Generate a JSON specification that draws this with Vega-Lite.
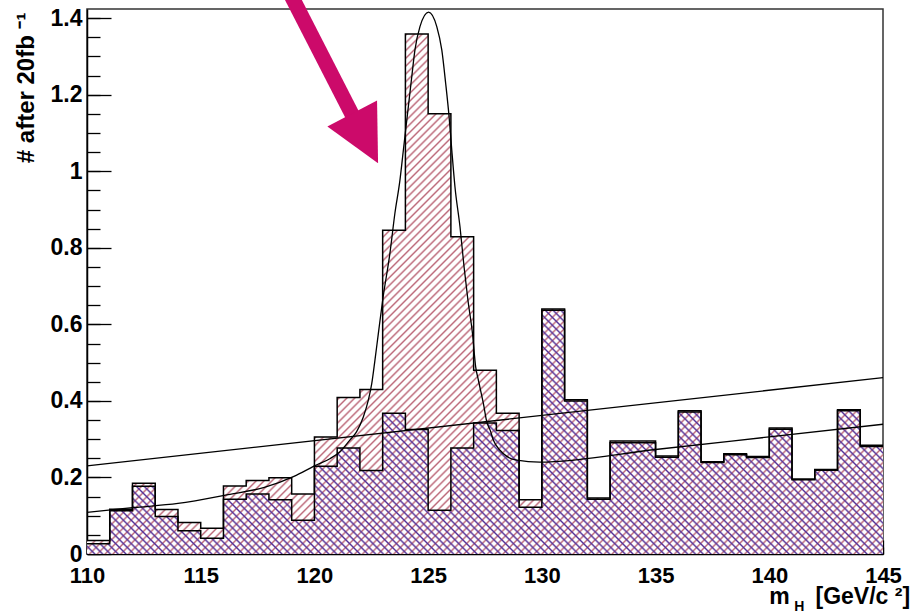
{
  "$schema": "https://vega.github.io/schema/vega-lite/v6.json",
  "width": 796,
  "height": 545,
  "autosize": {"type": "none"},
  "padding": {"left": 87, "top": 9, "right": 29, "bottom": 59},
  "background": "white",
  "config": {
    "view": {"stroke": "#333", "strokeWidth": 1.5},
    "font": "Liberation Sans",
    "axis": {"labelOverlap": false, "labelFlush": false, "labelBound": false, "grid": false}
  },
  "resolve": {"axis": {"x": "independent", "y": "independent"}},
  "datasets": {
    "hist": [
      {"m": 110, "bkg": 0.027, "tot": 0.035},
      {"m": 111, "bkg": 0.113, "tot": 0.117},
      {"m": 112, "bkg": 0.177, "tot": 0.185},
      {"m": 113, "bkg": 0.098, "tot": 0.116},
      {"m": 114, "bkg": 0.061, "tot": 0.082},
      {"m": 115, "bkg": 0.041, "tot": 0.067},
      {"m": 116, "bkg": 0.143, "tot": 0.178},
      {"m": 117, "bkg": 0.157, "tot": 0.192},
      {"m": 118, "bkg": 0.142, "tot": 0.199},
      {"m": 119, "bkg": 0.088, "tot": 0.157},
      {"m": 120, "bkg": 0.229, "tot": 0.306},
      {"m": 121, "bkg": 0.277, "tot": 0.409},
      {"m": 122, "bkg": 0.218, "tot": 0.430},
      {"m": 123, "bkg": 0.368, "tot": 0.846},
      {"m": 124, "bkg": 0.325, "tot": 1.359},
      {"m": 125, "bkg": 0.114, "tot": 1.150},
      {"m": 126, "bkg": 0.277, "tot": 0.829},
      {"m": 127, "bkg": 0.342, "tot": 0.480},
      {"m": 128, "bkg": 0.323, "tot": 0.368},
      {"m": 129, "bkg": 0.122, "tot": 0.142},
      {"m": 130, "bkg": 0.637, "tot": 0.640},
      {"m": 131, "bkg": 0.400, "tot": 0.403},
      {"m": 132, "bkg": 0.143, "tot": 0.146},
      {"m": 133, "bkg": 0.291, "tot": 0.295},
      {"m": 134, "bkg": 0.291, "tot": 0.295},
      {"m": 135, "bkg": 0.253, "tot": 0.256},
      {"m": 136, "bkg": 0.371, "tot": 0.374},
      {"m": 137, "bkg": 0.239, "tot": 0.241},
      {"m": 138, "bkg": 0.259, "tot": 0.262},
      {"m": 139, "bkg": 0.252, "tot": 0.255},
      {"m": 140, "bkg": 0.326, "tot": 0.329},
      {"m": 141, "bkg": 0.194, "tot": 0.196},
      {"m": 142, "bkg": 0.219, "tot": 0.221},
      {"m": 143, "bkg": 0.374, "tot": 0.377},
      {"m": 144, "bkg": 0.281, "tot": 0.284},
      {"m": 145, "bkg": 0.281, "tot": 0.284}
    ],
    "fit": [
      {"m": 110, "f": 0.109}, {"m": 112, "f": 0.121}, {"m": 114, "f": 0.132}, {"m": 116.2, "f": 0.155},
      {"m": 117.8, "f": 0.174}, {"m": 119.1, "f": 0.203}, {"m": 120.03, "f": 0.231}, {"m": 120.68, "f": 0.249},
      {"m": 121.1, "f": 0.266}, {"m": 121.55, "f": 0.297}, {"m": 121.85, "f": 0.319},
      {"m": 122.15, "f": 0.358}, {"m": 122.37, "f": 0.402}, {"m": 122.52, "f": 0.445}, {"m": 122.66, "f": 0.506},
      {"m": 122.81, "f": 0.576}, {"m": 123.0, "f": 0.663}, {"m": 123.32, "f": 0.786}, {"m": 123.54, "f": 0.891},
      {"m": 123.76, "f": 0.977}, {"m": 123.91, "f": 1.055}, {"m": 124.08, "f": 1.143}, {"m": 124.28, "f": 1.247},
      {"m": 124.42, "f": 1.317}, {"m": 124.64, "f": 1.378}, {"m": 125.02, "f": 1.416}, {"m": 125.38, "f": 1.378},
      {"m": 125.6, "f": 1.317}, {"m": 125.77, "f": 1.230}, {"m": 125.92, "f": 1.143}, {"m": 126.04, "f": 1.055},
      {"m": 126.18, "f": 0.959}, {"m": 126.4, "f": 0.855}, {"m": 126.58, "f": 0.750}, {"m": 126.75, "f": 0.663},
      {"m": 126.95, "f": 0.576}, {"m": 127.09, "f": 0.489}, {"m": 127.21, "f": 0.454}, {"m": 127.43, "f": 0.393},
      {"m": 127.58, "f": 0.345}, {"m": 127.73, "f": 0.323}, {"m": 127.87, "f": 0.297}, {"m": 128.16, "f": 0.271},
      {"m": 128.46, "f": 0.255}, {"m": 128.9, "f": 0.245}, {"m": 129.9, "f": 0.240}, {"m": 135, "f": 0.273},
      {"m": 140, "f": 0.306}, {"m": 145, "f": 0.339}
    ],
    "bkgline": [
      {"m": 110, "f": 0.230},
      {"m": 145, "f": 0.461}
    ]
  },
  "layer": [
    {
      "data": {"name": "hist"},
      "mark": {
        "type": "area",
        "interpolate": "step-after",
        "fill": {
          "gradient": "linear", "x1": 0, "y1": 0, "x2": 1.3735, "y2": 0.8974,
          "stops": [
{"offset":0,"color":"#b67"},{"offset":0.0013,"color":"#fff"},{"offset":0.0037,"color":"#fff"},{"offset":0.005,"color":"#b67"},{"offset":0.0063,"color":"#fff"},{"offset":0.0087,"color":"#fff"},
{"offset":0.01,"color":"#b67"},{"offset":0.0113,"color":"#fff"},{"offset":0.0137,"color":"#fff"},{"offset":0.015,"color":"#b67"},{"offset":0.0163,"color":"#fff"},{"offset":0.0187,"color":"#fff"},
{"offset":0.02,"color":"#b67"},{"offset":0.0213,"color":"#fff"},{"offset":0.0237,"color":"#fff"},{"offset":0.025,"color":"#b67"},{"offset":0.0263,"color":"#fff"},{"offset":0.0287,"color":"#fff"},
{"offset":0.03,"color":"#b67"},{"offset":0.0313,"color":"#fff"},{"offset":0.0337,"color":"#fff"},{"offset":0.035,"color":"#b67"},{"offset":0.0363,"color":"#fff"},{"offset":0.0387,"color":"#fff"},
{"offset":0.04,"color":"#b67"},{"offset":0.0413,"color":"#fff"},{"offset":0.0437,"color":"#fff"},{"offset":0.045,"color":"#b67"},{"offset":0.0463,"color":"#fff"},{"offset":0.0487,"color":"#fff"},
{"offset":0.05,"color":"#b67"},{"offset":0.0513,"color":"#fff"},{"offset":0.0537,"color":"#fff"},{"offset":0.055,"color":"#b67"},{"offset":0.0563,"color":"#fff"},{"offset":0.0587,"color":"#fff"},
{"offset":0.06,"color":"#b67"},{"offset":0.0613,"color":"#fff"},{"offset":0.0637,"color":"#fff"},{"offset":0.065,"color":"#b67"},{"offset":0.0663,"color":"#fff"},{"offset":0.0687,"color":"#fff"},
{"offset":0.07,"color":"#b67"},{"offset":0.0713,"color":"#fff"},{"offset":0.0737,"color":"#fff"},{"offset":0.075,"color":"#b67"},{"offset":0.0763,"color":"#fff"},{"offset":0.0787,"color":"#fff"},
{"offset":0.08,"color":"#b67"},{"offset":0.0813,"color":"#fff"},{"offset":0.0837,"color":"#fff"},{"offset":0.085,"color":"#b67"},{"offset":0.0863,"color":"#fff"},{"offset":0.0887,"color":"#fff"},
{"offset":0.09,"color":"#b67"},{"offset":0.0913,"color":"#fff"},{"offset":0.0937,"color":"#fff"},{"offset":0.095,"color":"#b67"},{"offset":0.0963,"color":"#fff"},{"offset":0.0987,"color":"#fff"},
{"offset":0.1,"color":"#b67"},{"offset":0.1013,"color":"#fff"},{"offset":0.1037,"color":"#fff"},{"offset":0.105,"color":"#b67"},{"offset":0.1063,"color":"#fff"},{"offset":0.1087,"color":"#fff"},
{"offset":0.11,"color":"#b67"},{"offset":0.1113,"color":"#fff"},{"offset":0.1137,"color":"#fff"},{"offset":0.115,"color":"#b67"},{"offset":0.1163,"color":"#fff"},{"offset":0.1187,"color":"#fff"},
{"offset":0.12,"color":"#b67"},{"offset":0.1213,"color":"#fff"},{"offset":0.1237,"color":"#fff"},{"offset":0.125,"color":"#b67"},{"offset":0.1263,"color":"#fff"},{"offset":0.1287,"color":"#fff"},
{"offset":0.13,"color":"#b67"},{"offset":0.1313,"color":"#fff"},{"offset":0.1337,"color":"#fff"},{"offset":0.135,"color":"#b67"},{"offset":0.1363,"color":"#fff"},{"offset":0.1387,"color":"#fff"},
{"offset":0.14,"color":"#b67"},{"offset":0.1413,"color":"#fff"},{"offset":0.1437,"color":"#fff"},{"offset":0.145,"color":"#b67"},{"offset":0.1463,"color":"#fff"},{"offset":0.1487,"color":"#fff"},
{"offset":0.15,"color":"#b67"},{"offset":0.1513,"color":"#fff"},{"offset":0.1537,"color":"#fff"},{"offset":0.155,"color":"#b67"},{"offset":0.1563,"color":"#fff"},{"offset":0.1587,"color":"#fff"},
{"offset":0.16,"color":"#b67"},{"offset":0.1613,"color":"#fff"},{"offset":0.1637,"color":"#fff"},{"offset":0.165,"color":"#b67"},{"offset":0.1663,"color":"#fff"},{"offset":0.1687,"color":"#fff"},
{"offset":0.17,"color":"#b67"},{"offset":0.1713,"color":"#fff"},{"offset":0.1737,"color":"#fff"},{"offset":0.175,"color":"#b67"},{"offset":0.1763,"color":"#fff"},{"offset":0.1787,"color":"#fff"},
{"offset":0.18,"color":"#b67"},{"offset":0.1813,"color":"#fff"},{"offset":0.1837,"color":"#fff"},{"offset":0.185,"color":"#b67"},{"offset":0.1863,"color":"#fff"},{"offset":0.1887,"color":"#fff"},
{"offset":0.19,"color":"#b67"},{"offset":0.1913,"color":"#fff"},{"offset":0.1937,"color":"#fff"},{"offset":0.195,"color":"#b67"},{"offset":0.1963,"color":"#fff"},{"offset":0.1987,"color":"#fff"},
{"offset":0.2,"color":"#b67"},{"offset":0.2013,"color":"#fff"},{"offset":0.2037,"color":"#fff"},{"offset":0.205,"color":"#b67"},{"offset":0.2063,"color":"#fff"},{"offset":0.2087,"color":"#fff"},
{"offset":0.21,"color":"#b67"},{"offset":0.2113,"color":"#fff"},{"offset":0.2137,"color":"#fff"},{"offset":0.215,"color":"#b67"},{"offset":0.2163,"color":"#fff"},{"offset":0.2187,"color":"#fff"},
{"offset":0.22,"color":"#b67"},{"offset":0.2213,"color":"#fff"},{"offset":0.2237,"color":"#fff"},{"offset":0.225,"color":"#b67"},{"offset":0.2263,"color":"#fff"},{"offset":0.2287,"color":"#fff"},
{"offset":0.23,"color":"#b67"},{"offset":0.2313,"color":"#fff"},{"offset":0.2337,"color":"#fff"},{"offset":0.235,"color":"#b67"},{"offset":0.2363,"color":"#fff"},{"offset":0.2387,"color":"#fff"},
{"offset":0.24,"color":"#b67"},{"offset":0.2413,"color":"#fff"},{"offset":0.2437,"color":"#fff"},{"offset":0.245,"color":"#b67"},{"offset":0.2463,"color":"#fff"},{"offset":0.2487,"color":"#fff"},
{"offset":0.25,"color":"#b67"},{"offset":0.2513,"color":"#fff"},{"offset":0.2537,"color":"#fff"},{"offset":0.255,"color":"#b67"},{"offset":0.2563,"color":"#fff"},{"offset":0.2587,"color":"#fff"},
{"offset":0.26,"color":"#b67"},{"offset":0.2613,"color":"#fff"},{"offset":0.2637,"color":"#fff"},{"offset":0.265,"color":"#b67"},{"offset":0.2663,"color":"#fff"},{"offset":0.2687,"color":"#fff"},
{"offset":0.27,"color":"#b67"},{"offset":0.2713,"color":"#fff"},{"offset":0.2737,"color":"#fff"},{"offset":0.275,"color":"#b67"},{"offset":0.2763,"color":"#fff"},{"offset":0.2787,"color":"#fff"},
{"offset":0.28,"color":"#b67"},{"offset":0.2813,"color":"#fff"},{"offset":0.2837,"color":"#fff"},{"offset":0.285,"color":"#b67"},{"offset":0.2863,"color":"#fff"},{"offset":0.2887,"color":"#fff"},
{"offset":0.29,"color":"#b67"},{"offset":0.2913,"color":"#fff"},{"offset":0.2937,"color":"#fff"},{"offset":0.295,"color":"#b67"},{"offset":0.2963,"color":"#fff"},{"offset":0.2987,"color":"#fff"},
{"offset":0.3,"color":"#b67"},{"offset":0.3013,"color":"#fff"},{"offset":0.3037,"color":"#fff"},{"offset":0.305,"color":"#b67"},{"offset":0.3063,"color":"#fff"},{"offset":0.3087,"color":"#fff"},
{"offset":0.31,"color":"#b67"},{"offset":0.3113,"color":"#fff"},{"offset":0.3137,"color":"#fff"},{"offset":0.315,"color":"#b67"},{"offset":0.3163,"color":"#fff"},{"offset":0.3187,"color":"#fff"},
{"offset":0.32,"color":"#b67"},{"offset":0.3213,"color":"#fff"},{"offset":0.3237,"color":"#fff"},{"offset":0.325,"color":"#b67"},{"offset":0.3263,"color":"#fff"},{"offset":0.3287,"color":"#fff"},
{"offset":0.33,"color":"#b67"},{"offset":0.3313,"color":"#fff"},{"offset":0.3337,"color":"#fff"},{"offset":0.335,"color":"#b67"},{"offset":0.3363,"color":"#fff"},{"offset":0.3387,"color":"#fff"},
{"offset":0.34,"color":"#b67"},{"offset":0.3413,"color":"#fff"},{"offset":0.3437,"color":"#fff"},{"offset":0.345,"color":"#b67"},{"offset":0.3463,"color":"#fff"},{"offset":0.3487,"color":"#fff"},
{"offset":0.35,"color":"#b67"},{"offset":0.3513,"color":"#fff"},{"offset":0.3537,"color":"#fff"},{"offset":0.355,"color":"#b67"},{"offset":0.3563,"color":"#fff"},{"offset":0.3587,"color":"#fff"},
{"offset":0.36,"color":"#b67"},{"offset":0.3613,"color":"#fff"},{"offset":0.3637,"color":"#fff"},{"offset":0.365,"color":"#b67"},{"offset":0.3663,"color":"#fff"},{"offset":0.3687,"color":"#fff"},
{"offset":0.37,"color":"#b67"},{"offset":0.3713,"color":"#fff"},{"offset":0.3737,"color":"#fff"},{"offset":0.375,"color":"#b67"},{"offset":0.3763,"color":"#fff"},{"offset":0.3787,"color":"#fff"},
{"offset":0.38,"color":"#b67"},{"offset":0.3813,"color":"#fff"},{"offset":0.3837,"color":"#fff"},{"offset":0.385,"color":"#b67"},{"offset":0.3863,"color":"#fff"},{"offset":0.3887,"color":"#fff"},
{"offset":0.39,"color":"#b67"},{"offset":0.3913,"color":"#fff"},{"offset":0.3937,"color":"#fff"},{"offset":0.395,"color":"#b67"},{"offset":0.3963,"color":"#fff"},{"offset":0.3987,"color":"#fff"},
{"offset":0.4,"color":"#b67"},{"offset":0.4013,"color":"#fff"},{"offset":0.4037,"color":"#fff"},{"offset":0.405,"color":"#b67"},{"offset":0.4063,"color":"#fff"},{"offset":0.4087,"color":"#fff"},
{"offset":0.41,"color":"#b67"},{"offset":0.4113,"color":"#fff"},{"offset":0.4137,"color":"#fff"},{"offset":0.415,"color":"#b67"},{"offset":0.4163,"color":"#fff"},{"offset":0.4187,"color":"#fff"},
{"offset":0.42,"color":"#b67"},{"offset":0.4213,"color":"#fff"},{"offset":0.4237,"color":"#fff"},{"offset":0.425,"color":"#b67"},{"offset":0.4263,"color":"#fff"},{"offset":0.4287,"color":"#fff"},
{"offset":0.43,"color":"#b67"},{"offset":0.4313,"color":"#fff"},{"offset":0.4337,"color":"#fff"},{"offset":0.435,"color":"#b67"},{"offset":0.4363,"color":"#fff"},{"offset":0.4387,"color":"#fff"},
{"offset":0.44,"color":"#b67"},{"offset":0.4413,"color":"#fff"},{"offset":0.4437,"color":"#fff"},{"offset":0.445,"color":"#b67"},{"offset":0.4463,"color":"#fff"},{"offset":0.4487,"color":"#fff"},
{"offset":0.45,"color":"#b67"},{"offset":0.4513,"color":"#fff"},{"offset":0.4537,"color":"#fff"},{"offset":0.455,"color":"#b67"},{"offset":0.4563,"color":"#fff"},{"offset":0.4587,"color":"#fff"},
{"offset":0.46,"color":"#b67"},{"offset":0.4613,"color":"#fff"},{"offset":0.4637,"color":"#fff"},{"offset":0.465,"color":"#b67"},{"offset":0.4663,"color":"#fff"},{"offset":0.4687,"color":"#fff"},
{"offset":0.47,"color":"#b67"},{"offset":0.4713,"color":"#fff"},{"offset":0.4737,"color":"#fff"},{"offset":0.475,"color":"#b67"},{"offset":0.4763,"color":"#fff"},{"offset":0.4787,"color":"#fff"},
{"offset":0.48,"color":"#b67"},{"offset":0.4813,"color":"#fff"},{"offset":0.4837,"color":"#fff"},{"offset":0.485,"color":"#b67"},{"offset":0.4863,"color":"#fff"},{"offset":0.4887,"color":"#fff"},
{"offset":0.49,"color":"#b67"},{"offset":0.4913,"color":"#fff"},{"offset":0.4937,"color":"#fff"},{"offset":0.495,"color":"#b67"},{"offset":0.4963,"color":"#fff"},{"offset":0.4987,"color":"#fff"},
{"offset":0.5,"color":"#b67"},{"offset":0.5013,"color":"#fff"},{"offset":0.5037,"color":"#fff"},{"offset":0.505,"color":"#b67"},{"offset":0.5063,"color":"#fff"},{"offset":0.5087,"color":"#fff"},
{"offset":0.51,"color":"#b67"},{"offset":0.5113,"color":"#fff"},{"offset":0.5137,"color":"#fff"},{"offset":0.515,"color":"#b67"},{"offset":0.5163,"color":"#fff"},{"offset":0.5187,"color":"#fff"},
{"offset":0.52,"color":"#b67"},{"offset":0.5213,"color":"#fff"},{"offset":0.5237,"color":"#fff"},{"offset":0.525,"color":"#b67"},{"offset":0.5263,"color":"#fff"},{"offset":0.5287,"color":"#fff"},
{"offset":0.53,"color":"#b67"},{"offset":0.5313,"color":"#fff"},{"offset":0.5337,"color":"#fff"},{"offset":0.535,"color":"#b67"},{"offset":0.5363,"color":"#fff"},{"offset":0.5387,"color":"#fff"},
{"offset":0.54,"color":"#b67"},{"offset":0.5413,"color":"#fff"},{"offset":0.5437,"color":"#fff"},{"offset":0.545,"color":"#b67"},{"offset":0.5463,"color":"#fff"},{"offset":0.5487,"color":"#fff"},
{"offset":0.55,"color":"#b67"},{"offset":0.5513,"color":"#fff"},{"offset":0.5537,"color":"#fff"},{"offset":0.555,"color":"#b67"},{"offset":0.5563,"color":"#fff"},{"offset":0.5587,"color":"#fff"},
{"offset":0.56,"color":"#b67"},{"offset":0.5613,"color":"#fff"},{"offset":0.5637,"color":"#fff"},{"offset":0.565,"color":"#b67"},{"offset":0.5663,"color":"#fff"},{"offset":0.5687,"color":"#fff"},
{"offset":0.57,"color":"#b67"},{"offset":0.5713,"color":"#fff"},{"offset":0.5737,"color":"#fff"},{"offset":0.575,"color":"#b67"},{"offset":0.5763,"color":"#fff"},{"offset":0.5787,"color":"#fff"},
{"offset":0.58,"color":"#b67"},{"offset":0.5813,"color":"#fff"},{"offset":0.5837,"color":"#fff"},{"offset":0.585,"color":"#b67"},{"offset":0.5863,"color":"#fff"},{"offset":0.5887,"color":"#fff"},
{"offset":0.59,"color":"#b67"},{"offset":0.5913,"color":"#fff"},{"offset":0.5937,"color":"#fff"},{"offset":0.595,"color":"#b67"},{"offset":0.5963,"color":"#fff"},{"offset":0.5987,"color":"#fff"},
{"offset":0.6,"color":"#b67"},{"offset":0.6013,"color":"#fff"},{"offset":0.6037,"color":"#fff"},{"offset":0.605,"color":"#b67"},{"offset":0.6063,"color":"#fff"},{"offset":0.6087,"color":"#fff"},
{"offset":0.61,"color":"#b67"},{"offset":0.6113,"color":"#fff"},{"offset":0.6137,"color":"#fff"},{"offset":0.615,"color":"#b67"},{"offset":0.6163,"color":"#fff"},{"offset":0.6187,"color":"#fff"},
{"offset":0.62,"color":"#b67"},{"offset":0.6213,"color":"#fff"},{"offset":0.6237,"color":"#fff"},{"offset":0.625,"color":"#b67"},{"offset":0.6263,"color":"#fff"},{"offset":0.6287,"color":"#fff"},
{"offset":0.63,"color":"#b67"},{"offset":0.6313,"color":"#fff"},{"offset":0.6337,"color":"#fff"},{"offset":0.635,"color":"#b67"},{"offset":0.6363,"color":"#fff"},{"offset":0.6387,"color":"#fff"},
{"offset":0.64,"color":"#b67"},{"offset":0.6413,"color":"#fff"},{"offset":0.6437,"color":"#fff"},{"offset":0.645,"color":"#b67"},{"offset":0.6463,"color":"#fff"},{"offset":0.6487,"color":"#fff"},
{"offset":0.65,"color":"#b67"},{"offset":0.6513,"color":"#fff"},{"offset":0.6537,"color":"#fff"},{"offset":0.655,"color":"#b67"},{"offset":0.6563,"color":"#fff"},{"offset":0.6587,"color":"#fff"},
{"offset":0.66,"color":"#b67"},{"offset":0.6613,"color":"#fff"},{"offset":0.6637,"color":"#fff"},{"offset":0.665,"color":"#b67"},{"offset":0.6663,"color":"#fff"},{"offset":0.6687,"color":"#fff"},
{"offset":0.67,"color":"#b67"},{"offset":0.6713,"color":"#fff"},{"offset":0.6737,"color":"#fff"},{"offset":0.675,"color":"#b67"},{"offset":0.6763,"color":"#fff"},{"offset":0.6787,"color":"#fff"},
{"offset":0.68,"color":"#b67"},{"offset":0.6813,"color":"#fff"},{"offset":0.6837,"color":"#fff"},{"offset":0.685,"color":"#b67"},{"offset":0.6863,"color":"#fff"},{"offset":0.6887,"color":"#fff"},
{"offset":0.69,"color":"#b67"},{"offset":0.6913,"color":"#fff"},{"offset":0.6937,"color":"#fff"},{"offset":0.695,"color":"#b67"},{"offset":0.6963,"color":"#fff"},{"offset":0.6987,"color":"#fff"},
{"offset":0.7,"color":"#b67"},{"offset":0.7013,"color":"#fff"},{"offset":0.7037,"color":"#fff"},{"offset":0.705,"color":"#b67"},{"offset":0.7063,"color":"#fff"},{"offset":0.7087,"color":"#fff"},
{"offset":0.71,"color":"#b67"},{"offset":0.7113,"color":"#fff"},{"offset":0.7137,"color":"#fff"},{"offset":0.715,"color":"#b67"},{"offset":0.7163,"color":"#fff"},{"offset":0.7187,"color":"#fff"},
{"offset":0.72,"color":"#b67"},{"offset":0.7213,"color":"#fff"},{"offset":0.7237,"color":"#fff"},{"offset":0.725,"color":"#b67"},{"offset":0.7263,"color":"#fff"},{"offset":0.7287,"color":"#fff"},
{"offset":0.73,"color":"#b67"},{"offset":0.7313,"color":"#fff"},{"offset":0.7337,"color":"#fff"},{"offset":0.735,"color":"#b67"},{"offset":0.7363,"color":"#fff"},{"offset":0.7387,"color":"#fff"},
{"offset":0.74,"color":"#b67"},{"offset":0.7413,"color":"#fff"},{"offset":0.7437,"color":"#fff"},{"offset":0.745,"color":"#b67"},{"offset":0.7463,"color":"#fff"},{"offset":0.7487,"color":"#fff"},
{"offset":0.75,"color":"#b67"},{"offset":0.7513,"color":"#fff"},{"offset":0.7537,"color":"#fff"},{"offset":0.755,"color":"#b67"},{"offset":0.7563,"color":"#fff"},{"offset":0.7587,"color":"#fff"},
{"offset":0.76,"color":"#b67"},{"offset":0.7613,"color":"#fff"},{"offset":0.7637,"color":"#fff"},{"offset":0.765,"color":"#b67"},{"offset":0.7663,"color":"#fff"},{"offset":0.7687,"color":"#fff"},
{"offset":0.77,"color":"#b67"},{"offset":0.7713,"color":"#fff"},{"offset":0.7737,"color":"#fff"},{"offset":0.775,"color":"#b67"},{"offset":0.7763,"color":"#fff"},{"offset":0.7787,"color":"#fff"},
{"offset":0.78,"color":"#b67"},{"offset":0.7813,"color":"#fff"},{"offset":0.7837,"color":"#fff"},{"offset":0.785,"color":"#b67"},{"offset":0.7863,"color":"#fff"},{"offset":0.7887,"color":"#fff"},
{"offset":0.79,"color":"#b67"},{"offset":0.7913,"color":"#fff"},{"offset":0.7937,"color":"#fff"},{"offset":0.795,"color":"#b67"},{"offset":0.7963,"color":"#fff"},{"offset":0.7987,"color":"#fff"},
{"offset":0.8,"color":"#b67"},{"offset":0.8013,"color":"#fff"},{"offset":0.8037,"color":"#fff"},{"offset":0.805,"color":"#b67"},{"offset":0.8063,"color":"#fff"},{"offset":0.8087,"color":"#fff"},
{"offset":0.81,"color":"#b67"},{"offset":0.8113,"color":"#fff"},{"offset":0.8137,"color":"#fff"},{"offset":0.815,"color":"#b67"},{"offset":0.8163,"color":"#fff"},{"offset":0.8187,"color":"#fff"},
{"offset":0.82,"color":"#b67"},{"offset":0.8213,"color":"#fff"},{"offset":0.8237,"color":"#fff"},{"offset":0.825,"color":"#b67"},{"offset":0.8263,"color":"#fff"},{"offset":0.8287,"color":"#fff"},
{"offset":0.83,"color":"#b67"},{"offset":0.8313,"color":"#fff"},{"offset":0.8337,"color":"#fff"},{"offset":0.835,"color":"#b67"},{"offset":0.8363,"color":"#fff"},{"offset":0.8387,"color":"#fff"},
{"offset":0.84,"color":"#b67"},{"offset":0.8413,"color":"#fff"},{"offset":0.8437,"color":"#fff"},{"offset":0.845,"color":"#b67"},{"offset":0.8463,"color":"#fff"},{"offset":0.8487,"color":"#fff"},
{"offset":0.85,"color":"#b67"}
          ]
        }
      },
      "encoding": {
        "x": {
          "field": "m", "type": "quantitative",
          "scale": {"domain": [110, 145], "nice": false, "zero": false},
          "axis": {
            "orient": "bottom",
            "title": null,
            "values": [110, 115, 120, 125, 130, 135, 140, 145],
            "tickSize": -14,
            "labelPadding": 25,
            "domainColor": "black", "domainWidth": 1.5,
            "tickColor": "black", "tickWidth": 1.3,
            "labelFont": "Liberation Sans", "labelFontSize": 22, "labelFontWeight": "bold", "labelColor": "black"
          }
        },
        "y": {
          "field": "tot", "type": "quantitative",
          "scale": {"domain": [0, 1.424], "nice": false},
          "axis": {
            "orient": "left",
            "title": "# after 20fb ⁻¹",
            "titleFont": "Liberation Sans", "titleFontSize": 24, "titleFontWeight": "bold", "titleColor": "black",
            "titleAnchor": "end", "titleAngle": -90, "titleAlign": "right", "titleBaseline": "middle",
            "titleX": -61, "titleY": 3,
            "values": [0, 0.2, 0.4, 0.6, 0.8, 1, 1.2, 1.4],
            "format": ".1~f",
            "tickSize": -24,
            "labelPadding": 29,
            "domainColor": "black", "domainWidth": 1.5,
            "tickColor": "black", "tickWidth": 1.3,
            "labelFont": "Liberation Sans", "labelFontSize": 23, "labelFontWeight": "bold", "labelColor": "black"
          }
        }
      }
    },
    {
      "data": {"name": "hist"},
      "mark": {
        "type": "area",
        "interpolate": "step-after",
        "fill": {
          "gradient": "linear", "x1": 0, "y1": 1, "x2": 1.7917, "y2": 0.4512,
          "stops": [
{"offset":0,"color":"#539"},{"offset":0.0013,"color":"#5390"},{"offset":0.0037,"color":"#5390"},{"offset":0.005,"color":"#539"},{"offset":0.0063,"color":"#5390"},{"offset":0.0087,"color":"#5390"},
{"offset":0.01,"color":"#539"},{"offset":0.0113,"color":"#5390"},{"offset":0.0137,"color":"#5390"},{"offset":0.015,"color":"#539"},{"offset":0.0163,"color":"#5390"},{"offset":0.0187,"color":"#5390"},
{"offset":0.02,"color":"#539"},{"offset":0.0213,"color":"#5390"},{"offset":0.0237,"color":"#5390"},{"offset":0.025,"color":"#539"},{"offset":0.0263,"color":"#5390"},{"offset":0.0287,"color":"#5390"},
{"offset":0.03,"color":"#539"},{"offset":0.0313,"color":"#5390"},{"offset":0.0337,"color":"#5390"},{"offset":0.035,"color":"#539"},{"offset":0.0363,"color":"#5390"},{"offset":0.0387,"color":"#5390"},
{"offset":0.04,"color":"#539"},{"offset":0.0413,"color":"#5390"},{"offset":0.0437,"color":"#5390"},{"offset":0.045,"color":"#539"},{"offset":0.0463,"color":"#5390"},{"offset":0.0487,"color":"#5390"},
{"offset":0.05,"color":"#539"},{"offset":0.0513,"color":"#5390"},{"offset":0.0537,"color":"#5390"},{"offset":0.055,"color":"#539"},{"offset":0.0563,"color":"#5390"},{"offset":0.0587,"color":"#5390"},
{"offset":0.06,"color":"#539"},{"offset":0.0613,"color":"#5390"},{"offset":0.0637,"color":"#5390"},{"offset":0.065,"color":"#539"},{"offset":0.0663,"color":"#5390"},{"offset":0.0687,"color":"#5390"},
{"offset":0.07,"color":"#539"},{"offset":0.0713,"color":"#5390"},{"offset":0.0737,"color":"#5390"},{"offset":0.075,"color":"#539"},{"offset":0.0763,"color":"#5390"},{"offset":0.0787,"color":"#5390"},
{"offset":0.08,"color":"#539"},{"offset":0.0813,"color":"#5390"},{"offset":0.0837,"color":"#5390"},{"offset":0.085,"color":"#539"},{"offset":0.0863,"color":"#5390"},{"offset":0.0887,"color":"#5390"},
{"offset":0.09,"color":"#539"},{"offset":0.0913,"color":"#5390"},{"offset":0.0937,"color":"#5390"},{"offset":0.095,"color":"#539"},{"offset":0.0963,"color":"#5390"},{"offset":0.0987,"color":"#5390"},
{"offset":0.1,"color":"#539"},{"offset":0.1013,"color":"#5390"},{"offset":0.1037,"color":"#5390"},{"offset":0.105,"color":"#539"},{"offset":0.1063,"color":"#5390"},{"offset":0.1087,"color":"#5390"},
{"offset":0.11,"color":"#539"},{"offset":0.1113,"color":"#5390"},{"offset":0.1137,"color":"#5390"},{"offset":0.115,"color":"#539"},{"offset":0.1163,"color":"#5390"},{"offset":0.1187,"color":"#5390"},
{"offset":0.12,"color":"#539"},{"offset":0.1213,"color":"#5390"},{"offset":0.1237,"color":"#5390"},{"offset":0.125,"color":"#539"},{"offset":0.1263,"color":"#5390"},{"offset":0.1287,"color":"#5390"},
{"offset":0.13,"color":"#539"},{"offset":0.1313,"color":"#5390"},{"offset":0.1337,"color":"#5390"},{"offset":0.135,"color":"#539"},{"offset":0.1363,"color":"#5390"},{"offset":0.1387,"color":"#5390"},
{"offset":0.14,"color":"#539"},{"offset":0.1413,"color":"#5390"},{"offset":0.1437,"color":"#5390"},{"offset":0.145,"color":"#539"},{"offset":0.1463,"color":"#5390"},{"offset":0.1487,"color":"#5390"},
{"offset":0.15,"color":"#539"},{"offset":0.1513,"color":"#5390"},{"offset":0.1537,"color":"#5390"},{"offset":0.155,"color":"#539"},{"offset":0.1563,"color":"#5390"},{"offset":0.1587,"color":"#5390"},
{"offset":0.16,"color":"#539"},{"offset":0.1613,"color":"#5390"},{"offset":0.1637,"color":"#5390"},{"offset":0.165,"color":"#539"},{"offset":0.1663,"color":"#5390"},{"offset":0.1687,"color":"#5390"},
{"offset":0.17,"color":"#539"},{"offset":0.1713,"color":"#5390"},{"offset":0.1737,"color":"#5390"},{"offset":0.175,"color":"#539"},{"offset":0.1763,"color":"#5390"},{"offset":0.1787,"color":"#5390"},
{"offset":0.18,"color":"#539"},{"offset":0.1813,"color":"#5390"},{"offset":0.1837,"color":"#5390"},{"offset":0.185,"color":"#539"},{"offset":0.1863,"color":"#5390"},{"offset":0.1887,"color":"#5390"},
{"offset":0.19,"color":"#539"},{"offset":0.1913,"color":"#5390"},{"offset":0.1937,"color":"#5390"},{"offset":0.195,"color":"#539"},{"offset":0.1963,"color":"#5390"},{"offset":0.1987,"color":"#5390"},
{"offset":0.2,"color":"#539"},{"offset":0.2013,"color":"#5390"},{"offset":0.2037,"color":"#5390"},{"offset":0.205,"color":"#539"},{"offset":0.2063,"color":"#5390"},{"offset":0.2087,"color":"#5390"},
{"offset":0.21,"color":"#539"},{"offset":0.2113,"color":"#5390"},{"offset":0.2137,"color":"#5390"},{"offset":0.215,"color":"#539"},{"offset":0.2163,"color":"#5390"},{"offset":0.2187,"color":"#5390"},
{"offset":0.22,"color":"#539"},{"offset":0.2213,"color":"#5390"},{"offset":0.2237,"color":"#5390"},{"offset":0.225,"color":"#539"},{"offset":0.2263,"color":"#5390"},{"offset":0.2287,"color":"#5390"},
{"offset":0.23,"color":"#539"},{"offset":0.2313,"color":"#5390"},{"offset":0.2337,"color":"#5390"},{"offset":0.235,"color":"#539"},{"offset":0.2363,"color":"#5390"},{"offset":0.2387,"color":"#5390"},
{"offset":0.24,"color":"#539"},{"offset":0.2413,"color":"#5390"},{"offset":0.2437,"color":"#5390"},{"offset":0.245,"color":"#539"},{"offset":0.2463,"color":"#5390"},{"offset":0.2487,"color":"#5390"},
{"offset":0.25,"color":"#539"},{"offset":0.2513,"color":"#5390"},{"offset":0.2537,"color":"#5390"},{"offset":0.255,"color":"#539"},{"offset":0.2563,"color":"#5390"},{"offset":0.2587,"color":"#5390"},
{"offset":0.26,"color":"#539"},{"offset":0.2613,"color":"#5390"},{"offset":0.2637,"color":"#5390"},{"offset":0.265,"color":"#539"},{"offset":0.2663,"color":"#5390"},{"offset":0.2687,"color":"#5390"},
{"offset":0.27,"color":"#539"},{"offset":0.2713,"color":"#5390"},{"offset":0.2737,"color":"#5390"},{"offset":0.275,"color":"#539"},{"offset":0.2763,"color":"#5390"},{"offset":0.2787,"color":"#5390"},
{"offset":0.28,"color":"#539"},{"offset":0.2813,"color":"#5390"},{"offset":0.2837,"color":"#5390"},{"offset":0.285,"color":"#539"},{"offset":0.2863,"color":"#5390"},{"offset":0.2887,"color":"#5390"},
{"offset":0.29,"color":"#539"},{"offset":0.2913,"color":"#5390"},{"offset":0.2937,"color":"#5390"},{"offset":0.295,"color":"#539"},{"offset":0.2963,"color":"#5390"},{"offset":0.2987,"color":"#5390"},
{"offset":0.3,"color":"#539"},{"offset":0.3013,"color":"#5390"},{"offset":0.3037,"color":"#5390"},{"offset":0.305,"color":"#539"},{"offset":0.3063,"color":"#5390"},{"offset":0.3087,"color":"#5390"},
{"offset":0.31,"color":"#539"},{"offset":0.3113,"color":"#5390"},{"offset":0.3137,"color":"#5390"},{"offset":0.315,"color":"#539"},{"offset":0.3163,"color":"#5390"},{"offset":0.3187,"color":"#5390"},
{"offset":0.32,"color":"#539"},{"offset":0.3213,"color":"#5390"},{"offset":0.3237,"color":"#5390"},{"offset":0.325,"color":"#539"},{"offset":0.3263,"color":"#5390"},{"offset":0.3287,"color":"#5390"},
{"offset":0.33,"color":"#539"},{"offset":0.3313,"color":"#5390"},{"offset":0.3337,"color":"#5390"},{"offset":0.335,"color":"#539"},{"offset":0.3363,"color":"#5390"},{"offset":0.3387,"color":"#5390"},
{"offset":0.34,"color":"#539"},{"offset":0.3413,"color":"#5390"},{"offset":0.3437,"color":"#5390"},{"offset":0.345,"color":"#539"},{"offset":0.3463,"color":"#5390"},{"offset":0.3487,"color":"#5390"},
{"offset":0.35,"color":"#539"},{"offset":0.3513,"color":"#5390"},{"offset":0.3537,"color":"#5390"},{"offset":0.355,"color":"#539"},{"offset":0.3563,"color":"#5390"},{"offset":0.3587,"color":"#5390"},
{"offset":0.36,"color":"#539"},{"offset":0.3613,"color":"#5390"},{"offset":0.3637,"color":"#5390"},{"offset":0.365,"color":"#539"},{"offset":0.3663,"color":"#5390"},{"offset":0.3687,"color":"#5390"},
{"offset":0.37,"color":"#539"},{"offset":0.3713,"color":"#5390"},{"offset":0.3737,"color":"#5390"},{"offset":0.375,"color":"#539"},{"offset":0.3763,"color":"#5390"},{"offset":0.3787,"color":"#5390"},
{"offset":0.38,"color":"#539"},{"offset":0.3813,"color":"#5390"},{"offset":0.3837,"color":"#5390"},{"offset":0.385,"color":"#539"},{"offset":0.3863,"color":"#5390"},{"offset":0.3887,"color":"#5390"},
{"offset":0.39,"color":"#539"},{"offset":0.3913,"color":"#5390"},{"offset":0.3937,"color":"#5390"},{"offset":0.395,"color":"#539"},{"offset":0.3963,"color":"#5390"},{"offset":0.3987,"color":"#5390"},
{"offset":0.4,"color":"#539"},{"offset":0.4013,"color":"#5390"},{"offset":0.4037,"color":"#5390"},{"offset":0.405,"color":"#539"},{"offset":0.4063,"color":"#5390"},{"offset":0.4087,"color":"#5390"},
{"offset":0.41,"color":"#539"},{"offset":0.4113,"color":"#5390"},{"offset":0.4137,"color":"#5390"},{"offset":0.415,"color":"#539"},{"offset":0.4163,"color":"#5390"},{"offset":0.4187,"color":"#5390"},
{"offset":0.42,"color":"#539"},{"offset":0.4213,"color":"#5390"},{"offset":0.4237,"color":"#5390"},{"offset":0.425,"color":"#539"},{"offset":0.4263,"color":"#5390"},{"offset":0.4287,"color":"#5390"},
{"offset":0.43,"color":"#539"},{"offset":0.4313,"color":"#5390"},{"offset":0.4337,"color":"#5390"},{"offset":0.435,"color":"#539"},{"offset":0.4363,"color":"#5390"},{"offset":0.4387,"color":"#5390"},
{"offset":0.44,"color":"#539"},{"offset":0.4413,"color":"#5390"},{"offset":0.4437,"color":"#5390"},{"offset":0.445,"color":"#539"},{"offset":0.4463,"color":"#5390"},{"offset":0.4487,"color":"#5390"},
{"offset":0.45,"color":"#539"},{"offset":0.4513,"color":"#5390"},{"offset":0.4537,"color":"#5390"},{"offset":0.455,"color":"#539"},{"offset":0.4563,"color":"#5390"},{"offset":0.4587,"color":"#5390"},
{"offset":0.46,"color":"#539"},{"offset":0.4613,"color":"#5390"},{"offset":0.4637,"color":"#5390"},{"offset":0.465,"color":"#539"},{"offset":0.4663,"color":"#5390"},{"offset":0.4687,"color":"#5390"},
{"offset":0.47,"color":"#539"},{"offset":0.4713,"color":"#5390"},{"offset":0.4737,"color":"#5390"},{"offset":0.475,"color":"#539"},{"offset":0.4763,"color":"#5390"},{"offset":0.4787,"color":"#5390"},
{"offset":0.48,"color":"#539"},{"offset":0.4813,"color":"#5390"},{"offset":0.4837,"color":"#5390"},{"offset":0.485,"color":"#539"},{"offset":0.4863,"color":"#5390"},{"offset":0.4887,"color":"#5390"},
{"offset":0.49,"color":"#539"},{"offset":0.4913,"color":"#5390"},{"offset":0.4937,"color":"#5390"},{"offset":0.495,"color":"#539"},{"offset":0.4963,"color":"#5390"},{"offset":0.4987,"color":"#5390"},
{"offset":0.5,"color":"#539"},{"offset":0.5013,"color":"#5390"},{"offset":0.5037,"color":"#5390"},{"offset":0.505,"color":"#539"},{"offset":0.5063,"color":"#5390"},{"offset":0.5087,"color":"#5390"},
{"offset":0.51,"color":"#539"},{"offset":0.5113,"color":"#5390"},{"offset":0.5137,"color":"#5390"},{"offset":0.515,"color":"#539"},{"offset":0.5163,"color":"#5390"},{"offset":0.5187,"color":"#5390"},
{"offset":0.52,"color":"#539"},{"offset":0.5213,"color":"#5390"},{"offset":0.5237,"color":"#5390"},{"offset":0.525,"color":"#539"},{"offset":0.5263,"color":"#5390"},{"offset":0.5287,"color":"#5390"},
{"offset":0.53,"color":"#539"},{"offset":0.5313,"color":"#5390"},{"offset":0.5337,"color":"#5390"},{"offset":0.535,"color":"#539"},{"offset":0.5363,"color":"#5390"},{"offset":0.5387,"color":"#5390"},
{"offset":0.54,"color":"#539"},{"offset":0.5413,"color":"#5390"},{"offset":0.5437,"color":"#5390"},{"offset":0.545,"color":"#539"},{"offset":0.5463,"color":"#5390"},{"offset":0.5487,"color":"#5390"},
{"offset":0.55,"color":"#539"},{"offset":0.5513,"color":"#5390"},{"offset":0.5537,"color":"#5390"},{"offset":0.555,"color":"#539"},{"offset":0.5563,"color":"#5390"},{"offset":0.5587,"color":"#5390"},
{"offset":0.56,"color":"#539"},{"offset":0.5613,"color":"#5390"},{"offset":0.5637,"color":"#5390"},{"offset":0.565,"color":"#539"},{"offset":0.5663,"color":"#5390"},{"offset":0.5687,"color":"#5390"},
{"offset":0.57,"color":"#539"},{"offset":0.5713,"color":"#5390"},{"offset":0.5737,"color":"#5390"},{"offset":0.575,"color":"#539"},{"offset":0.5763,"color":"#5390"},{"offset":0.5787,"color":"#5390"},
{"offset":0.58,"color":"#539"},{"offset":0.5813,"color":"#5390"},{"offset":0.5837,"color":"#5390"},{"offset":0.585,"color":"#539"},{"offset":0.5863,"color":"#5390"},{"offset":0.5887,"color":"#5390"},
{"offset":0.59,"color":"#539"},{"offset":0.5913,"color":"#5390"},{"offset":0.5937,"color":"#5390"},{"offset":0.595,"color":"#539"},{"offset":0.5963,"color":"#5390"},{"offset":0.5987,"color":"#5390"},
{"offset":0.6,"color":"#539"},{"offset":0.6013,"color":"#5390"},{"offset":0.6037,"color":"#5390"},{"offset":0.605,"color":"#539"},{"offset":0.6063,"color":"#5390"},{"offset":0.6087,"color":"#5390"},
{"offset":0.61,"color":"#539"},{"offset":0.6113,"color":"#5390"},{"offset":0.6137,"color":"#5390"},{"offset":0.615,"color":"#539"},{"offset":0.6163,"color":"#5390"},{"offset":0.6187,"color":"#5390"},
{"offset":0.62,"color":"#539"},{"offset":0.6213,"color":"#5390"},{"offset":0.6237,"color":"#5390"},{"offset":0.625,"color":"#539"},{"offset":0.6263,"color":"#5390"},{"offset":0.6287,"color":"#5390"},
{"offset":0.63,"color":"#539"},{"offset":0.6313,"color":"#5390"},{"offset":0.6337,"color":"#5390"},{"offset":0.635,"color":"#539"},{"offset":0.6363,"color":"#5390"},{"offset":0.6387,"color":"#5390"},
{"offset":0.64,"color":"#539"},{"offset":0.6413,"color":"#5390"},{"offset":0.6437,"color":"#5390"},{"offset":0.645,"color":"#539"},{"offset":0.6463,"color":"#5390"},{"offset":0.6487,"color":"#5390"},
{"offset":0.65,"color":"#539"},{"offset":0.6513,"color":"#5390"},{"offset":0.6537,"color":"#5390"},{"offset":0.655,"color":"#539"},{"offset":0.6563,"color":"#5390"},{"offset":0.6587,"color":"#5390"},
{"offset":0.66,"color":"#539"},{"offset":0.6613,"color":"#5390"},{"offset":0.6637,"color":"#5390"},{"offset":0.665,"color":"#539"},{"offset":0.6663,"color":"#5390"},{"offset":0.6687,"color":"#5390"},
{"offset":0.67,"color":"#539"}
          ]
        }
      },
      "encoding": {
        "x": {
          "field": "m", "type": "quantitative",
          "scale": {"domain": [110, 145], "nice": false, "zero": false},
          "axis": {
            "orient": "bottom", "title": null, "labels": false, "domain": false,
            "values": [110,111,112,113,114,115,116,117,118,119,120,121,122,123,124,125,126,127,128,129,130,131,132,133,134,135,136,137,138,139,140,141,142,143,144,145],
            "tickSize": -7, "tickColor": "black", "tickWidth": 1.3
          }
        },
        "y": {
          "field": "bkg", "type": "quantitative",
          "scale": {"domain": [0, 1.424], "nice": false},
          "axis": {
            "orient": "left", "title": null, "labels": false, "domain": false,
            "values": [0,0.05,0.1,0.15,0.2,0.25,0.3,0.35,0.4,0.45,0.5,0.55,0.6,0.65,0.7,0.75,0.8,0.85,0.9,0.95,1,1.05,1.1,1.15,1.2,1.25,1.3,1.35,1.4],
            "tickSize": -13, "tickColor": "black", "tickWidth": 1.3
          }
        }
      }
    },
    {
      "data": {"name": "hist"},
      "mark": {"type": "line", "interpolate": "step-after", "color": "black", "strokeWidth": 1.5},
      "encoding": {
        "x": {"field": "m", "type": "quantitative", "scale": {"domain": [110, 145], "nice": false, "zero": false}, "axis": null},
        "y": {"field": "tot", "type": "quantitative", "scale": {"domain": [0, 1.424], "nice": false}, "axis": null}
      }
    },
    {
      "data": {"name": "hist"},
      "mark": {"type": "line", "interpolate": "step-after", "color": "black", "strokeWidth": 1.5},
      "encoding": {
        "x": {"field": "m", "type": "quantitative", "scale": {"domain": [110, 145], "nice": false, "zero": false}, "axis": null},
        "y": {"field": "bkg", "type": "quantitative", "scale": {"domain": [0, 1.424], "nice": false}, "axis": null}
      }
    },
    {
      "data": {"name": "fit"},
      "mark": {"type": "line", "interpolate": "monotone", "color": "black", "strokeWidth": 1.3},
      "encoding": {
        "x": {"field": "m", "type": "quantitative", "scale": {"domain": [110, 145], "nice": false, "zero": false}, "axis": null},
        "y": {"field": "f", "type": "quantitative", "scale": {"domain": [0, 1.424], "nice": false}, "axis": null}
      }
    },
    {
      "data": {"name": "bkgline"},
      "mark": {"type": "line", "color": "black", "strokeWidth": 1.3},
      "encoding": {
        "x": {"field": "m", "type": "quantitative", "scale": {"domain": [110, 145], "nice": false, "zero": false}, "axis": null},
        "y": {"field": "f", "type": "quantitative", "scale": {"domain": [0, 1.424], "nice": false}, "axis": null}
      }
    },
    {
      "data": {"values": [{}]},
      "mark": {"type": "rule", "color": "#cc0a6a", "strokeWidth": 15, "strokeCap": "butt", "clip": false},
      "encoding": {
        "x": {"datum": 118.96, "type": "quantitative", "scale": {"domain": [110, 145], "nice": false, "zero": false}, "axis": null},
        "y": {"datum": 1.461, "type": "quantitative", "scale": {"domain": [0, 1.424], "nice": false}, "axis": null},
        "x2": {"datum": 121.72},
        "y2": {"datum": 1.141}
      }
    },
    {
      "data": {"values": [{}]},
      "mark": {"type": "point", "shape": "M-1,-1L1,-1L0,1Z", "size": 3136, "angle": -27.5, "filled": true, "color": "#cc0a6a", "opacity": 1, "strokeWidth": 0, "clip": false},
      "encoding": {
        "x": {"datum": 122.23, "type": "quantitative", "scale": {"domain": [110, 145], "nice": false, "zero": false}, "axis": null},
        "y": {"datum": 1.086, "type": "quantitative", "scale": {"domain": [0, 1.424], "nice": false}, "axis": null}
      }
    },
    {
      "data": {"values": [{}]},
      "mark": {"type": "text", "text": "m", "font": "Liberation Sans", "fontSize": 23, "fontWeight": "bold", "color": "black", "align": "left", "baseline": "alphabetic", "clip": false},
      "encoding": {
        "x": {"datum": 140.0, "type": "quantitative", "scale": {"domain": [110, 145], "nice": false, "zero": false}, "axis": null},
        "y": {"datum": -0.13, "type": "quantitative", "scale": {"domain": [0, 1.424], "nice": false}, "axis": null}
      }
    },
    {
      "data": {"values": [{}]},
      "mark": {"type": "text", "text": "H", "font": "Liberation Sans", "fontSize": 14, "fontWeight": "bold", "color": "black", "align": "left", "baseline": "alphabetic", "clip": false},
      "encoding": {
        "x": {"datum": 141.1, "type": "quantitative", "scale": {"domain": [110, 145], "nice": false, "zero": false}, "axis": null},
        "y": {"datum": -0.15, "type": "quantitative", "scale": {"domain": [0, 1.424], "nice": false}, "axis": null}
      }
    },
    {
      "data": {"values": [{}]},
      "mark": {"type": "text", "text": "[GeV/c ²]", "font": "Liberation Sans", "fontSize": 23, "fontWeight": "bold", "color": "black", "align": "right", "baseline": "alphabetic", "clip": false},
      "encoding": {
        "x": {"datum": 146.19, "type": "quantitative", "scale": {"domain": [110, 145], "nice": false, "zero": false}, "axis": null},
        "y": {"datum": -0.13, "type": "quantitative", "scale": {"domain": [0, 1.424], "nice": false}, "axis": null}
      }
    }
  ]
}
